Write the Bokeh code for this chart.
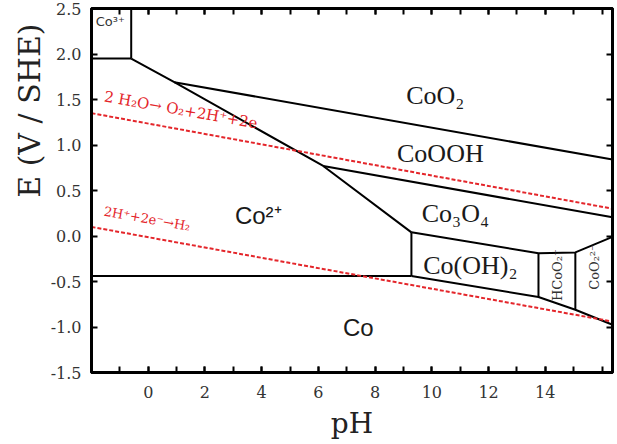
import math
from bokeh.plotting import figure
from bokeh.models import (Range1d, LinearAxis, FixedTicker, PrintfTickFormatter, Title)
from bokeh.core.properties import value
from bokeh.embed import file_html
from bokeh.resources import INLINE

# ---------------- data (pH, E vs SHE) ----------------
x_min, x_max = -2.0, 16.37
y_min, y_max = -1.5, 2.5

x_major = [0, 2, 4, 6, 8, 10, 12, 14]
x_minor = [-1, 0, 1, 2, 3, 4, 5, 6, 7, 8, 9, 10, 11, 12, 13, 14, 15, 16]
y_major = [-1.5, -1.0, -0.5, 0.0, 0.5, 1.0, 1.5, 2.0, 2.5]

# phase boundaries
co3_h_ph = [-2.0, -0.6]
co3_h_e = [1.95, 1.95]
co3_v_ph = [-0.6, -0.6]
co3_v_e = [2.5, 1.95]
diag_ph = [-0.6, 0.92, 6.17, 9.28]
diag_e = [1.95, 1.69, 0.77, 0.04]
co2_co_ph = [-2.0, 9.28]
co2_co_e = [-0.44, -0.44]
v1_ph = [9.28, 9.28]
v1_e = [0.04, -0.44]
cooh_top_ph = [0.92, 16.37]
cooh_top_e = [1.69, 0.84]
co3o4_top_ph = [6.17, 16.37]
co3o4_top_e = [0.77, 0.205]
hyd_top_ph = [9.28, 13.76, 15.06, 16.37]
hyd_top_e = [0.04, -0.19, -0.18, -0.01]
hyd_bot_ph = [9.28, 13.76, 15.06, 16.37]
hyd_bot_e = [-0.44, -0.67, -0.81, -0.975]
v2_ph = [13.76, 13.76]
v2_e = [-0.19, -0.67]
v3_ph = [15.06, 15.06]
v3_e = [-0.18, -0.81]

# water stability lines
o2_ph = [-2.0, 16.37]
o2_e = [1.35, 0.30]
h2_ph = [-2.0, 16.37]
h2_e = [0.10, -0.94]

# region labels
serif_labels = ["CoO\u2082", "CoOOH", "Co\u2083O\u2084", "Co(OH)\u2082"]
serif_ph = [10.12, 10.3, 10.83, 11.36]
serif_e = [1.54, 0.905, 0.25, -0.32]

sans_labels = ["Co\u00b2\u207a", "Co"]
sans_ph = [3.88, 7.41]
sans_e = [0.23, -1.0]

# ---------------- figure ----------------
p = figure(frame_width=521, frame_height=364,
           x_range=Range1d(x_min, x_max), y_range=Range1d(y_min, y_max),
           output_backend="svg", toolbar_location=None,
           min_border_left=91, min_border_right=5, min_border_top=8, min_border_bottom=62,
           x_axis_location=None, y_axis_location=None)
p.grid.visible = False
p.outline_line_color = "black"
p.outline_line_width = 3
p.background_fill_color = "white"
p.border_fill_color = "white"

tick_font = "DejaVu Serif"

def style_axis(ax, show_labels):
    ax.axis_line_color = "black"
    ax.axis_line_width = 3
    ax.major_tick_in = 6
    ax.major_tick_out = 0
    ax.minor_tick_in = 6
    ax.minor_tick_out = 0
    ax.major_tick_line_width = 2
    ax.minor_tick_line_width = 2
    ax.major_label_text_font = tick_font
    ax.major_label_text_font_size = "16px"
    ax.major_label_text_color = "#333333" if show_labels else None

xb = LinearAxis(ticker=FixedTicker(ticks=x_major, minor_ticks=x_minor))
style_axis(xb, True)
xb.major_label_standoff = 13
xb.axis_label = "pH"
xb.axis_label_text_font = tick_font
xb.axis_label_text_font_size = "28px"
xb.axis_label_text_font_style = "normal"
xb.axis_label_text_color = "#222222"
xb.axis_label_standoff = 6
p.add_layout(xb, "below")

xt = LinearAxis(ticker=FixedTicker(ticks=x_major, minor_ticks=x_minor))
style_axis(xt, False)
p.add_layout(xt, "above")

yl = LinearAxis(ticker=FixedTicker(ticks=y_major, minor_ticks=[]),
                formatter=PrintfTickFormatter(format="%.1f"))
style_axis(yl, True)
yl.major_label_standoff = 10
p.add_layout(yl, "left")

yr = LinearAxis(ticker=FixedTicker(ticks=y_major, minor_ticks=[]),
                formatter=PrintfTickFormatter(format="%.1f"))
style_axis(yr, False)
p.add_layout(yr, "right")

# y-axis title, placed toward the top as in the reference
p.add_layout(Title(text="E (V / SHE)", align="right", offset=15,
                   text_font=tick_font, text_font_size="30px",
                   text_font_style="normal", text_color="#222222", standoff=2), "left")

# boundaries
lw = 2
for xs, ys in [(co3_h_ph, co3_h_e), (co3_v_ph, co3_v_e), (diag_ph, diag_e),
               (co2_co_ph, co2_co_e), (v1_ph, v1_e), (cooh_top_ph, cooh_top_e),
               (co3o4_top_ph, co3o4_top_e), (hyd_top_ph, hyd_top_e),
               (hyd_bot_ph, hyd_bot_e), (v2_ph, v2_e), (v3_ph, v3_e)]:
    p.line(xs, ys, line_color="black", line_width=lw)

red = "#e4262b"
p.line(o2_ph, o2_e, line_color=red, line_width=2, line_dash="4 2")
p.line(h2_ph, h2_e, line_color=red, line_width=2, line_dash="4 2")

# labels
p.text(serif_ph, serif_e, text=serif_labels, text_font=value("Liberation Serif"),
       text_font_size="26px", text_align="center", text_baseline="middle",
       text_color="#1a1a1a")
p.text(sans_ph, sans_e, text=sans_labels, text_font=value("Liberation Sans"),
       text_font_size="24px", text_align="center", text_baseline="middle",
       text_color="#1a1a1a")
p.text([-1.85], [2.36], text=["Co\u00b3\u207a"], text_font=value("DejaVu Sans"),
       text_font_size="13px", text_align="left", text_baseline="middle",
       text_color="#333333")
p.text([14.43, 15.73], [-0.43, -0.34], text=["HCoO\u2082\u207b", "CoO\u2082\u00b2\u207b"],
       text_font=value("DejaVu Serif"), text_font_size="13px",
       text_align="center", text_baseline="middle", angle=math.pi / 2,
       text_color="#333333")
p.text([1.15], [1.385], text=["2 H\u2082O\u2192 O\u2082+2H\u207a+2e"],
       text_font=value("DejaVu Serif"), text_font_size="15px",
       text_align="center", text_baseline="middle", angle=-0.175,
       text_color=red)
p.text([-0.04], [0.19], text=["2H\u207a+2e\u207b\u2192H\u2082"],
       text_font=value("DejaVu Serif"), text_font_size="13px",
       text_align="center", text_baseline="middle", angle=-0.175,
       text_color=red)

open("out.html", "w").write(file_html(p, INLINE))
